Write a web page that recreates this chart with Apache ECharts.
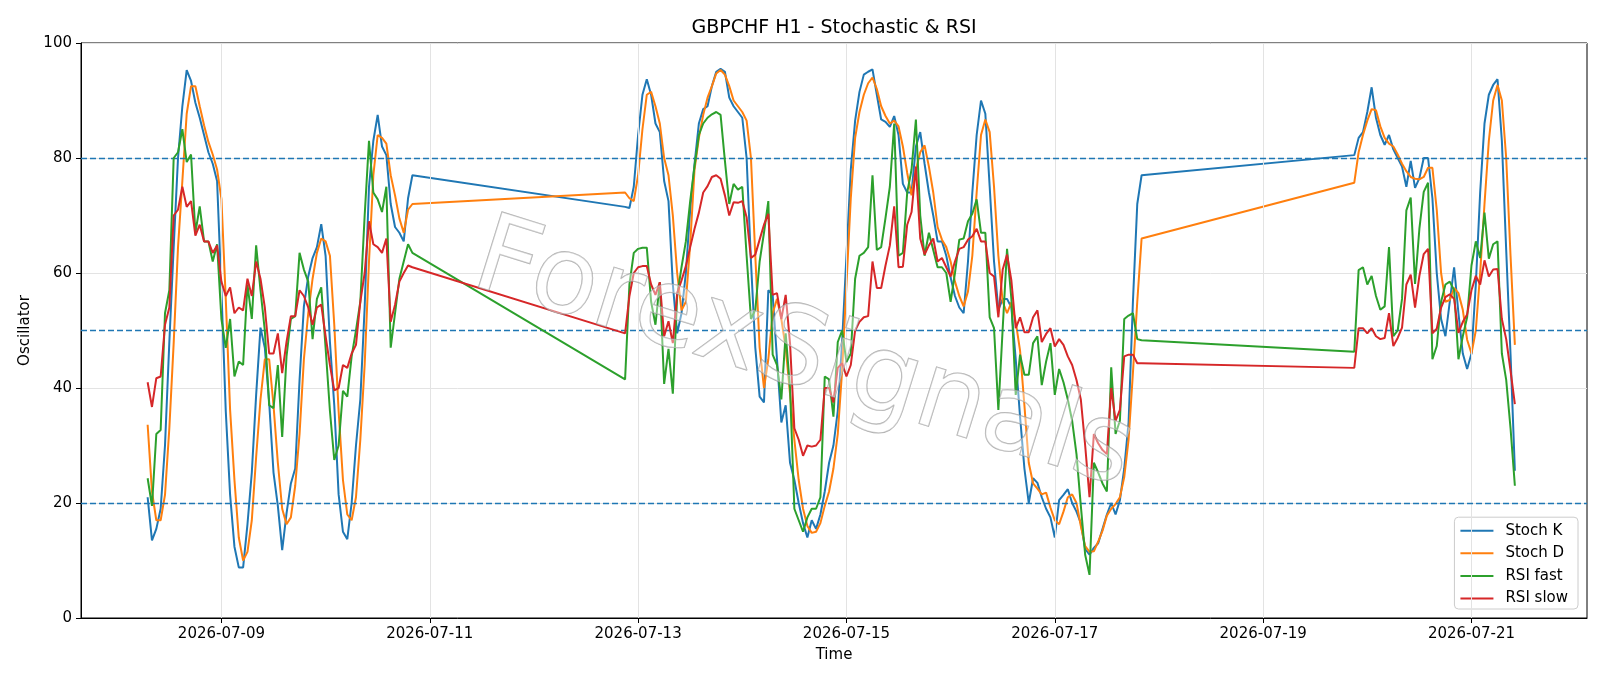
<!DOCTYPE html>
<html><head><meta charset="utf-8">
<script src="https://cdn.jsdelivr.net/npm/echarts@6/dist/echarts.min.js"></script>
<style>html,body{margin:0;padding:0;background:#fff}#c{width:1600px;height:686px}</style>
</head><body><div id="c"></div>
<script>
// ---- data (hourly H1 bars, three trading segments) ----
const segmentStarts = ['2026-07-08T07:00:00Z', '2026-07-12T21:00:00Z', '2026-07-19T21:00:00Z'];
const segmentLengths = [62, 120, 38];

const stochK = [
  21, 13.5, 15.5, 19, 30, 48, 64.5, 80, 89, 95.3, 93.4, 89.6, 87, 84, 81, 79, 76, 57, 36, 21.4,
  12.4, 8.8, 8.8, 16.3, 25.3, 38.8, 50.5, 47, 37.5, 25.3, 19.5, 11.8, 18.2, 23.4, 26, 41.4, 54.2, 59.4, 62.6, 64.5,
  68.5, 63, 48, 37, 21.5, 15, 13.7, 20, 30, 38, 54, 75, 83, 87.5, 82, 80.5, 72, 68, 67, 65.5, 73, 77,
  71.5, 71.3, 75, 84, 91, 93.7, 91, 86, 84.5, 76,
  72.5, 58, 49.5, 53, 60, 71, 79, 86, 88.5, 89,
  92.5, 95, 95.5, 95, 90.5, 89, 88, 87, 80, 62,
  47, 38.5, 37.5, 57, 56.2, 45, 34, 37, 27, 24,
  20, 16.5, 14, 17, 15.5, 18, 22, 27, 30, 36,
  48, 63, 78, 86.5, 91.5, 94.5, 95, 95.4, 91, 86.7,
  86.3, 85.4, 87.3, 84, 75.5, 74, 74, 82, 84.5, 79,
  74, 70, 65.5, 65.5, 63, 59.2, 56, 54, 53, 62,
  74, 84, 90, 87.7, 75, 62, 53.6, 55.5, 55.5, 54,
  45, 35, 26, 20, 24.3, 23.5, 21, 19, 17.5, 14,
  20.5, 21.4, 22.4, 20, 18.5, 16.5, 12, 11, 12.2, 13,
  15.5, 18, 20, 18, 20.5, 26, 34, 55, 72, 77,
  80.5, 83.5, 84.5, 88, 92.3, 87, 84, 82.3, 84, 81.5,
  80, 78.5, 75, 79.5, 74.8, 76.5, 80, 80, 73, 60,
  52, 49, 55, 61, 53, 46, 43.3, 46, 58, 74,
  86, 91, 92.7, 93.7, 83, 64, 45.8, 25.6
];
const stochD = [
  33.6, 22, 17, 17, 21.4, 33, 47.8, 64.5, 76, 87.7, 92.5, 92.5, 89, 85.7, 82.8, 80.6, 78, 72.9, 55.5, 36.2,
  24, 14, 10, 11.5, 17, 28, 38, 45, 45, 37, 27, 19, 16.3, 17.5, 23, 32, 45, 53, 59, 63.5,
  66, 65.5, 63, 51, 36, 24, 18, 17, 21, 31, 44, 62, 77, 84, 83.5, 82.5, 77, 73.5, 69.5, 67, 71, 72,
  74, 73, 72.5, 77, 85, 91, 91.5, 89, 86, 80,
  77, 70, 60, 53.5, 55, 65, 78, 83.5, 87.5, 90.5,
  92.5, 94.7, 95.3, 94.5, 92.5, 90, 89, 88, 86.5, 80,
  63, 47, 40, 45, 53, 55.5, 52, 47, 39, 31,
  24, 19, 16, 14.8, 15, 16.5, 19.5, 22, 26, 32,
  43, 58, 73, 83.5, 88, 91, 93, 94, 92, 89,
  87.3, 86, 86.5, 85.5, 82, 77.4, 73.5, 78, 81, 82.2,
  78.5, 74, 68, 65.8, 64.5, 62, 58.5, 56, 54.2, 56.8,
  63, 74, 84, 86.7, 84.5, 75, 63, 55, 53, 54.9,
  51.5, 46.5, 37, 27, 23.4, 22.5, 21.5, 21.8, 19.2, 17,
  16.3, 18.5, 21, 21.5, 20, 16, 12.5, 11.5, 11.6, 13.3,
  15.2, 17.8, 19, 19.8, 21, 24.5, 31, 42.6, 55, 66,
  75.7, 81, 84, 86.5, 88.5, 88.3, 85.5, 83.5, 82.5, 82,
  80.6, 79, 77.7, 76.7, 76.4, 76.3, 76.7, 78.3, 78.3, 71,
  60, 55, 55.3, 57.4, 56.5, 53.6, 48.4, 46, 50, 60,
  72, 83, 90, 92.7, 90, 80, 63, 47.5
];
const rsiFast = [
  24.3, 19.5, 32, 32.7, 53, 57, 80, 81, 85, 79.3, 80.6, 67, 71.6, 65.5, 65.5, 62, 65, 52, 47, 52,
  42, 44.6, 44, 58, 52, 64.8, 57, 50, 37, 36.5, 44, 31.5, 45.5, 52, 52.5, 63.5, 60.6, 58.5, 48.5, 55.5,
  57.5, 47, 36, 27.5, 30, 39.5, 38.5, 45.5, 50, 55, 70, 83, 74, 72.8, 70.6, 75, 47, 53, 59, 62, 65, 63.5,
  41.5, 58, 63.5, 64.2, 64.4, 64.4, 55, 51, 58.4, 40.7,
  46.8, 39, 56, 61, 65.5, 72.5, 78.6, 84, 86, 87,
  87.6, 88, 87.5, 79.5, 72, 75.5, 74.5, 75, 63, 52,
  53.6, 62, 67, 72.5, 45.8, 44, 38, 49.5, 40, 19,
  17, 15, 17.5, 19, 19, 21, 42, 41.5, 35, 48,
  50, 44.5, 46, 59, 63, 63.5, 64.5, 77, 64, 64.5,
  69.6, 75, 86, 63, 63.5, 74, 78, 86.7, 70, 63,
  67, 64, 61, 61, 60, 55, 60, 65.8, 66, 69,
  70.3, 72.8, 67, 67, 52.3, 50.4, 36.2, 50.4, 64.2, 55.5,
  38.8, 45.8, 42.3, 42.3, 47.8, 49, 40.5, 44.6, 47.8, 38.8,
  43.3, 41, 38, 34.3, 28.5, 19.5, 11, 7.5, 27, 25.3,
  23.4, 22, 43.6, 32, 34.3, 52, 52.6, 53, 48.5, 48.3,
  46.3, 60.5, 61, 58, 59.5, 56, 53.6, 54.2, 64.5, 49,
  50, 55.5, 70.9, 73.1, 58.1, 67.7, 74.1, 75.7, 45, 47.3,
  55, 58, 58.5, 57, 45, 49, 52.3, 61.3, 65.5, 62.6,
  70.5, 62.5, 65, 65.5, 46, 41.4, 33, 23
];
const rsiSlow = [
  41, 36.7, 41.7, 42, 51, 54, 70, 71, 75, 71.5, 72.5, 66.5, 68.4, 65.5, 65.5, 63.5, 64.8, 58.5, 56, 57.5,
  53, 54, 53.5, 59, 56, 62, 59, 54, 46, 46, 49.5, 42.6, 48, 52.5, 52.5, 57, 56, 54, 51, 54,
  54.5, 49, 44, 39.6, 40, 44, 43.5, 46, 47.5, 55, 60, 69, 65, 64.5, 63.5, 66, 51.5, 54.5, 58.5, 60, 61.3, 61,
  49.5, 56, 60, 61, 61.2, 61.2, 58, 56.2, 58.4, 49,
  51.6, 47.8, 56.5, 58.7, 61.2, 64.5, 67.7, 70.5, 74, 75.1,
  76.7, 77, 76.4, 73.5, 70, 72.3, 72.2, 72.5, 69.7, 62.6,
  63.2, 65.8, 68.4, 70.3, 56.2, 56.5, 52, 56.2, 47.8, 33,
  31, 28.2, 30, 29.8, 30, 31, 40, 40, 37.5, 43.5,
  44.3, 42, 44, 50, 51.5, 52.3, 52.5, 62, 57.4, 57.4,
  61.3, 64.8, 71.6, 61, 61.1, 68.4, 70.6, 78.5, 66, 63.2,
  64.8, 66, 62, 62.6, 61, 59.4, 62, 64.2, 64.5, 65.8,
  66.4, 67.7, 65.5, 65.5, 60, 59.4, 52.3, 60.6, 63.2, 58.7,
  50.4, 52.3, 49.7, 49.7, 52.3, 53.5, 48, 49.4, 50.4, 47.2,
  48.5, 47.5, 45.5, 44, 41.4, 38, 30, 21, 32, 30.4,
  29.2, 28.5, 40, 34.3, 36.2, 45.5, 45.8, 45.8, 44.3, 44.3,
  43.5, 50.4, 50.4, 49.5, 50.4, 49, 48.5, 48.7, 53, 47.3,
  48.7, 50.5, 58, 59.7, 54, 59.5, 63.3, 64.2, 49.5, 50.3,
  54, 55.8, 56.3, 55.5, 49.6, 51.5, 52.8, 57, 59.5, 58,
  62.2, 59.4, 60.6, 60.7, 52, 48.5, 43, 37.2
];
const xTickLabels = ['2026-07-09', '2026-07-11', '2026-07-13', '2026-07-15', '2026-07-17', '2026-07-19', '2026-07-21'];
const levelLines = [20, 50, 80];
const seriesNames = ['Stoch K', 'Stoch D', 'RSI fast', 'RSI slow'];

// ---- build ----
const HOUR = 3600e3, DAY = 864e5;
const times = [];
segmentStarts.forEach((s, i) => { const t0 = Date.parse(s); for (let h = 0; h < segmentLengths[i]; h++) times.push(t0 + h * HOUR); });
const pairs = arr => arr.map((v, i) => [times[i], v]);
const tickValues = xTickLabels.map(s => Date.parse(s + 'T00:00:00Z'));
const xMin = Date.parse('2026-07-07T00:00:00Z') + 0.652 * DAY;
const xMax = Date.parse('2026-07-22T00:00:00Z') + 0.109 * DAY;
const pad = n => String(n).padStart(2, '0');
const fmt = v => { const d = new Date(v); return d.getUTCFullYear() + '-' + pad(d.getUTCMonth() + 1) + '-' + pad(d.getUTCDate()); };
const FONT = 'DejaVu Sans';
const colors = ['#1f77b4', '#ff7f0e', '#2ca02c', '#d62728'];
const values = [stochK, stochD, rsiFast, rsiSlow];
const lineIcon = 'path://M0,0 L33,0 L33,2 L0,2 Z';

const chart = echarts.init(document.getElementById('c'), null, { renderer: 'canvas' });
const series = [
  { type: 'line', name: '_vgrid', data: [], z: 1, silent: true,
    markLine: { silent: true, symbol: 'none', label: { show: false }, animation: false,
      lineStyle: { color: '#e3e3e3', width: 1, type: 'solid' },
      data: tickValues.map(v => ({ xAxis: v })) } }
];
values.forEach((arr, i) => series.push({
  type: 'line', name: seriesNames[i], data: pairs(arr), symbol: 'none', showSymbol: false,
  lineStyle: { color: colors[i], width: 2 }, itemStyle: { color: colors[i] }, z: 3 + i, animation: false
}));
series.push({ type: 'line', name: '_levels', data: [], z: 8, silent: true,
  markLine: { silent: true, symbol: 'none', label: { show: false }, animation: false,
    lineStyle: { color: '#1f77b4', width: 1.3, type: [6, 3] },
    data: levelLines.map(v => ({ yAxis: v })) } });

chart.setOption({
  animation: false,
  textStyle: { fontFamily: FONT },
  title: { text: 'GBPCHF H1 - Stochastic & RSI', left: 829, top: 14, textAlign: 'center',
    textStyle: { fontSize: 19, fontWeight: 'normal', color: '#000', fontFamily: FONT } },
  grid: { left: 81, right: 13, top: 43, bottom: 68, show: true, borderColor: '#000', borderWidth: 1, backgroundColor: 'transparent' },
  legend: { orient: 'vertical', right: 22, bottom: 77,
    data: seriesNames.map(n => ({ name: n, icon: lineIcon })),
    itemWidth: 33, itemHeight: 14, itemGap: 7.6,
    backgroundColor: 'rgba(255,255,255,0.85)', borderColor: '#cccccc', borderWidth: 1, borderRadius: 4,
    padding: [6, 10, 3, 6],
    textStyle: { fontSize: 15, lineHeight: 14, color: '#000', fontFamily: FONT, padding: [0, 0, 0, 7] } },
  graphic: [
    { type: 'text', x: 803, y: 358, rotation: -0.30, z: 100, zlevel: 0, silent: true,
      style: { text: 'ForexSignals', font: '108px "DejaVu Sans"', align: 'center', verticalAlign: 'middle',
        fill: 'rgba(255,255,255,0.4)', stroke: 'rgba(150,150,150,0.75)', lineWidth: 1.3,
        shadowColor: 'rgba(0,0,0,0.3)', shadowBlur: 2, shadowOffsetX: 3, shadowOffsetY: 3 } }
  ],
  xAxis: { type: 'value', min: xMin, max: xMax, name: 'Time', nameLocation: 'middle', nameGap: 30,
    nameTextStyle: { fontSize: 15, color: '#000', fontFamily: FONT },
    axisLine: { show: true, onZero: false, lineStyle: { color: '#000', width: 1 } },
    axisTick: { show: true, inside: false, length: 5, customValues: tickValues, lineStyle: { color: '#000' } },
    axisLabel: { customValues: tickValues, formatter: fmt, fontSize: 15, color: '#000', margin: 9, fontFamily: FONT },
    splitLine: { show: false } },
  yAxis: { type: 'value', min: 0, max: 100, interval: 20, name: 'Oscillator', nameLocation: 'middle', nameGap: 44,
    nameTextStyle: { fontSize: 15, color: '#000', fontFamily: FONT },
    axisLine: { show: true, lineStyle: { color: '#000', width: 1 } },
    axisTick: { show: true, inside: false, length: 5, lineStyle: { color: '#000' } },
    axisLabel: { fontSize: 15, color: '#000', margin: 9, fontFamily: FONT },
    splitLine: { show: true, lineStyle: { color: '#e3e3e3', width: 1 } } },
  series: series
});
</script>
</body></html>
